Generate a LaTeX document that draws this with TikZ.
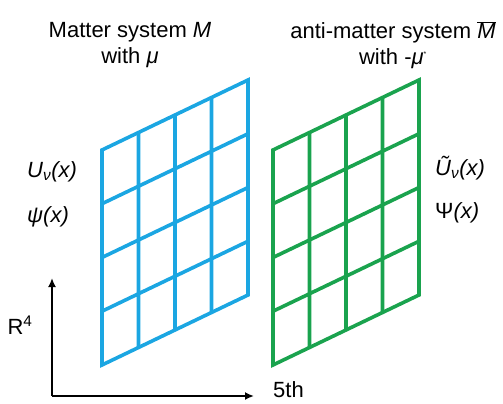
\documentclass[tikz,border=0pt]{standalone}
\usepackage{fontspec}
\setmainfont{Liberation Sans}
\usepackage{tikz}
\usetikzlibrary{positioning,arrows.meta}
\definecolor{matterblue}{RGB}{27,166,226}
\definecolor{antigreen}{RGB}{26,163,78}
\tikzset{
  lbl/.style={inner sep=0pt, font=\fontsize{22}{26}\selectfont},
  matter/.style={draw=matterblue, line width=3.6pt, line join=miter},
  antimatter/.style={draw=antigreen, line width=3.6pt, line join=miter},
  axis/.style={line width=2.8pt, -{Latex[length=9pt,width=8pt]}}
}

\begin{document}
\begin{tikzpicture}[x=1pt,y=-1pt]%[pixel units]
\useasboundingbox (0,0) rectangle (503,404);

      \draw node (mtitle) at (130,45) [lbl,align=center]{Matter system \textit{M}\\with \textit{μ}};
      \draw node (atitle) at (393,45) [lbl,align=center]{anti-matter system $\overline{\mbox{\textit{M}}}$\\with -\textit{μ}\textsuperscript{\scriptsize *}};

\draw node (uleft) at (27,172) [lbl,anchor=west]{\textit{U\textsubscript{ν}(x)}};
\draw node (psileft) at (27,217) [lbl,anchor=west]{\textit{ψ(x)}};
\draw node (uright) at (435,168) [lbl,anchor=west]{\textit{\~U\textsubscript{ν}(x)}};
\draw node (psiright) at (435,213) [lbl,anchor=west]{Ψ\textit{(x)}};

% the two lattices
\draw[matter] (102,365) -- ++(146,-70) -- ++(0,-215) -- ++(-146,70) -- cycle;
\foreach \i in {1,2,3}
  \draw[matter] (102+36.5*\i,365-17.5*\i) -- ++(0,-215)
    (102,365-53.75*\i) -- ++(146,-70);
\draw[antimatter] (273,365) -- ++(146,-70) -- ++(0,-215) -- ++(-146,70) -- cycle;
\foreach \i in {1,2,3}
  \draw[antimatter] (273+36.5*\i,365-17.5*\i) -- ++(0,-215)
    (273,365-53.75*\i) -- ++(146,-70);

% axes
\coordinate (origin) at (52,396);
\coordinate (r4tip) at (52,278);
\coordinate (fifthtip) at (254,396);
\draw[axis] (origin) -- (r4tip);
\draw[axis] (origin) -- (fifthtip);
\draw node (r4) at (20,325) [lbl]{R\textsuperscript{4}};
\draw node (fifth) at (273,397) [lbl,anchor=base west]{5th};
\end{tikzpicture}
\end{document}
